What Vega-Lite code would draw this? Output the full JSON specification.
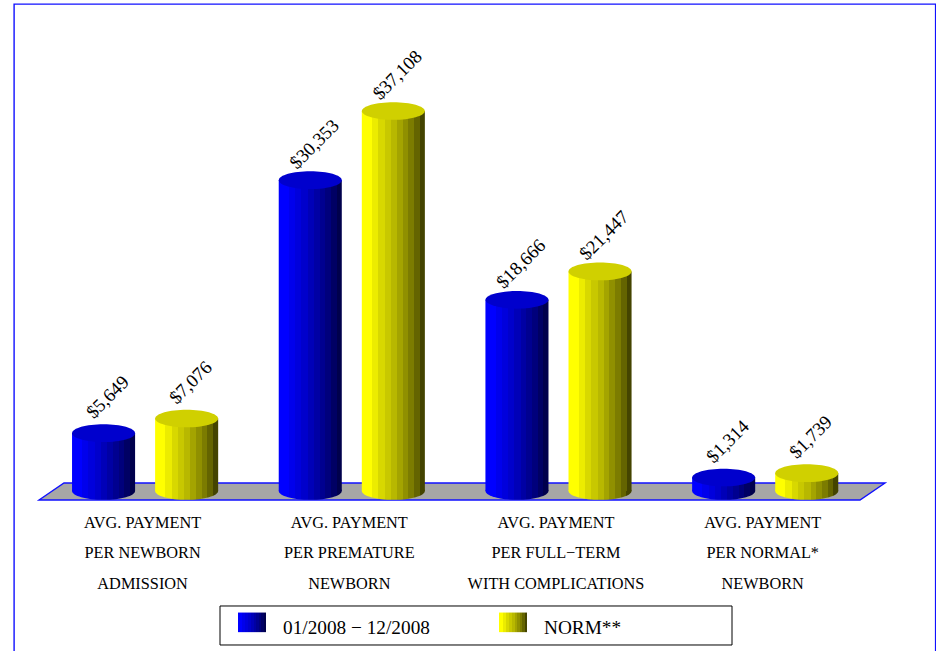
{
  "$schema": "https://vega.github.io/schema/vega-lite/v6.json",
  "width": 921.5,
  "height": 660,
  "padding": {"left": 14, "top": 4, "right": 0, "bottom": 0},
  "autosize": {"type": "none"},
  "background": "white",
  "view": {"stroke": "#1010ff", "strokeWidth": 1.4, "fill": "white"},
  "datasets": {
    "payments": [
      {"measure": "AVG. PAYMENT|PER NEWBORN|ADMISSION", "series": "01/2008 − 12/2008", "amount": 5649},
      {"measure": "AVG. PAYMENT|PER NEWBORN|ADMISSION", "series": "NORM**", "amount": 7076},
      {"measure": "AVG. PAYMENT|PER PREMATURE|NEWBORN", "series": "01/2008 − 12/2008", "amount": 30353},
      {"measure": "AVG. PAYMENT|PER PREMATURE|NEWBORN", "series": "NORM**", "amount": 37108},
      {"measure": "AVG. PAYMENT|PER FULL−TERM|WITH COMPLICATIONS", "series": "01/2008 − 12/2008", "amount": 18666},
      {"measure": "AVG. PAYMENT|PER FULL−TERM|WITH COMPLICATIONS", "series": "NORM**", "amount": 21447},
      {"measure": "AVG. PAYMENT|PER NORMAL*|NEWBORN", "series": "01/2008 − 12/2008", "amount": 1314},
      {"measure": "AVG. PAYMENT|PER NORMAL*|NEWBORN", "series": "NORM**", "amount": 1739}
    ],
    "floor": [
      {"across": 25, "front": -879, "back": -879},
      {"across": 50, "front": -879, "back": 781},
      {"across": 846, "front": -879, "back": 781},
      {"across": 871, "front": 781, "back": 781}
    ],
    "legendBox": [
      {"left": 206, "right": 718, "upper": -11230, "lower": -15039}
    ]
  },
  "layer": [
    {
      "data": {"name": "floor"},
      "mark": {"type": "area", "fill": "#a6a6a6", "stroke": "#1010ff", "strokeWidth": 1.4, "clip": false},
      "encoding": {
        "x": {"field": "across", "type": "quantitative", "axis": null, "scale": {"domain": [0, 921], "range": [0, 921], "nice": false, "zero": false}},
        "y": {"field": "back", "type": "quantitative", "axis": null, "scale": {"domain": [-16895, 47559], "nice": false, "zero": false}},
        "y2": {"field": "front"}
      }
    },
    {
      "data": {"name": "legendBox"},
      "mark": {"type": "rect", "fill": "white", "stroke": "black", "strokeWidth": 1},
      "encoding": {
        "x": {"field": "left", "type": "quantitative", "axis": null, "scale": {"domain": [0, 921], "range": [0, 921], "nice": false, "zero": false}},
        "x2": {"field": "right"},
        "y": {"field": "upper", "type": "quantitative", "axis": null},
        "y2": {"field": "lower"}
      }
    },
    {
      "data": {"name": "payments"},
      "encoding": {
        "x": {
          "field": "measure",
          "type": "nominal",
          "sort": null,
          "title": null,
          "scale": {"range": [27.75, 854.55], "paddingInner": 0, "paddingOuter": 0},
          "axis": {
            "orient": "bottom",
            "offset": -150,
            "domain": false,
            "ticks": false,
            "labelAngle": 0,
            "labelExpr": "split(datum.label, '|')",
            "labelFont": "Liberation Serif",
            "labelFontSize": 16.3,
            "labelColor": "black",
            "labelLineHeight": 30.5,
            "labelPadding": 0,
            "labelOffset": -2.5,
            "labelLimit": 0,
            "labelBaseline": "top"
          }
        },
        "xOffset": {
          "field": "series",
          "type": "nominal",
          "sort": null,
          "scale": {"paddingInner": 0.241, "paddingOuter": 0.3645}
        }
      },
      "layer": [
        {
          "mark": {"type": "point", "filled": true, "opacity": 1, "size": 3969, "shape": "M-1,0A1,0.28 0 1 1 1,0A1,0.28 0 1 1 -1,0Z"},
          "encoding": {
            "y": {"datum": 0, "type": "quantitative"},
            "color": {"field": "series", "type": "nominal", "sort": null}
          }
        },
        {
          "mark": {"type": "bar"},
          "encoding": {
            "y": {"field": "amount", "type": "quantitative"},
            "y2": {"datum": 0},
            "color": {
              "field": "series",
              "type": "nominal",
              "sort": null,
              "scale": {
                "domain": ["01/2008 − 12/2008", "NORM**"],
                "range": [
                  {"expr": "{gradient:'linear',x1:0,x2:1,y1:0,y2:0,stops:[{offset:0,color:'#0000ff'},{offset:0.16,color:'#0000ff'},{offset:0.16,color:'#0000ec'},{offset:0.26,color:'#0000ec'},{offset:0.26,color:'#0000dc'},{offset:0.36,color:'#0000dc'},{offset:0.36,color:'#0000cc'},{offset:0.46,color:'#0000cc'},{offset:0.46,color:'#0000b8'},{offset:0.56,color:'#0000b8'},{offset:0.56,color:'#0000a4'},{offset:0.65,color:'#0000a4'},{offset:0.65,color:'#000090'},{offset:0.74,color:'#000090'},{offset:0.74,color:'#00007c'},{offset:0.83,color:'#00007c'},{offset:0.83,color:'#000064'},{offset:0.92,color:'#000064'},{offset:0.92,color:'#00004c'},{offset:1,color:'#00004c'}]}"},
                  {"expr": "{gradient:'linear',x1:0,x2:1,y1:0,y2:0,stops:[{offset:0,color:'#ffff00'},{offset:0.16,color:'#ffff00'},{offset:0.16,color:'#ecec00'},{offset:0.26,color:'#ecec00'},{offset:0.26,color:'#d8d800'},{offset:0.36,color:'#d8d800'},{offset:0.36,color:'#c8c800'},{offset:0.46,color:'#c8c800'},{offset:0.46,color:'#b8b800'},{offset:0.56,color:'#b8b800'},{offset:0.56,color:'#a4a400'},{offset:0.65,color:'#a4a400'},{offset:0.65,color:'#909000'},{offset:0.74,color:'#909000'},{offset:0.74,color:'#7c7c00'},{offset:0.83,color:'#7c7c00'},{offset:0.83,color:'#646400'},{offset:0.92,color:'#646400'},{offset:0.92,color:'#444400'},{offset:1,color:'#444400'}]}"}
                ]
              },
              "legend": {
                "title": null,
                "orient": "none",
                "direction": "horizontal",
                "columns": 2,
                "legendX": 224,
                "legendY": 604,
                "padding": 0,
                "symbolType": "M-1,-0.7H1V0.7H-1Z",
                "symbolSize": 784,
                "symbolStrokeWidth": 0,
                "symbolOpacity": 1,
                "labelFont": "Liberation Serif",
                "labelFontSize": 19.3,
                "labelColor": "black",
                "labelOffset": 17,
                "labelLimit": 400,
                "columnPadding": 69,
                "encode": {"labels": {"update": {"dy": {"value": 6}}}}
              }
            }
          }
        },
        {
          "mark": {"type": "point", "filled": true, "opacity": 1, "size": 3969, "shape": "M-1,0A1,0.28 0 1 1 1,0A1,0.28 0 1 1 -1,0Z"},
          "encoding": {
            "y": {"field": "amount", "type": "quantitative"},
            "fill": {
              "field": "series",
              "type": "nominal",
              "sort": null,
              "legend": null,
              "scale": {"domain": ["01/2008 − 12/2008", "NORM**"], "range": ["#0000cd", "#d0d000"]}
            }
          }
        },
        {
          "mark": {"type": "text", "font": "Liberation Serif", "fontSize": 18.7, "angle": 315, "color": "black", "dx": 28.3, "dy": -22.6, "align": "center", "baseline": "middle"},
          "encoding": {
            "y": {"field": "amount", "type": "quantitative"},
            "text": {"field": "amount", "type": "quantitative", "format": "$,d"}
          }
        }
      ]
    }
  ],
  "resolve": {"scale": {"x": "independent"}}
}
